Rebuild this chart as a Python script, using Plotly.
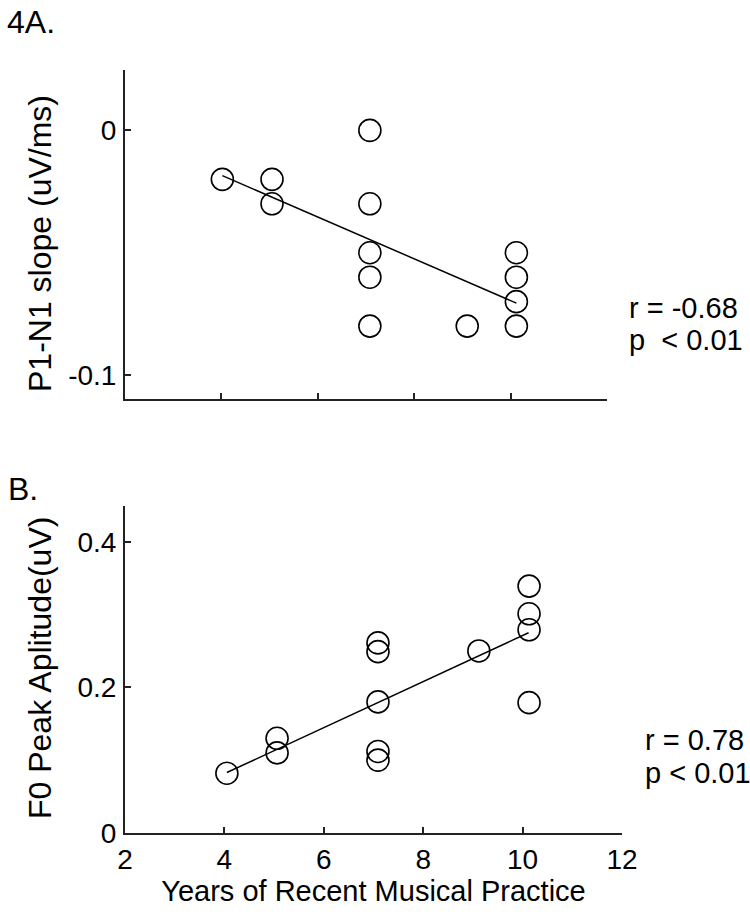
import plotly.graph_objects as go

# ---- data ----
top_x = [4.02, 5.05, 5.05, 7.08, 7.08, 7.08, 7.08, 7.08, 9.1, 10.12, 10.12, 10.12, 10.12]
top_y = [-0.02, -0.02, -0.03, 0.0, -0.03, -0.05, -0.06, -0.08, -0.08, -0.05, -0.06, -0.07, -0.08]
top_fit_x = [4.02, 10.12]
top_fit_y = [-0.0185, -0.0706]

bot_x = [4.05, 5.06, 5.06, 7.09, 7.09, 7.09, 7.09, 7.09, 9.12, 10.13, 10.13, 10.13, 10.13]
bot_y = [0.082, 0.130, 0.110, 0.261, 0.249, 0.180, 0.112, 0.100, 0.250, 0.339, 0.301, 0.279, 0.179]
bot_fit_x = [4.05, 10.12]
bot_fit_y = [0.083, 0.275]

x_ticks = [2, 4, 6, 8, 10, 12]
top_y_ticks = [-0.1, 0]
top_y_ticklabels = ["-0.1", "0"]
bot_y_ticks = [0, 0.2, 0.4]
bot_y_ticklabels = ["0", "0.2", "0.4"]

FONT = "Liberation Sans, Arial, sans-serif"
W, H = 750, 915
ML, MT = 125, 70
MR = W - 622
MB = H - 833
PW, PH = W - ML - MR, H - MT - MB


def px_x(p):  # window pixel -> paper x
    return (p - ML) / PW


def px_y(p):  # window pixel -> paper y
    return (H - MB - p) / PH


fig = go.Figure()

marker = dict(symbol="circle-open", size=22, color="black", line=dict(width=1.6, color="black"))

fig.add_trace(go.Scatter(x=top_x, y=top_y, mode="markers", marker=marker, xaxis="x", yaxis="y",
                         showlegend=False))
fig.add_trace(go.Scatter(x=top_fit_x, y=top_fit_y, mode="lines", line=dict(color="black", width=1.5),
                         xaxis="x", yaxis="y", showlegend=False))
fig.add_trace(go.Scatter(x=bot_x, y=bot_y, mode="markers", marker=marker, xaxis="x2", yaxis="y2",
                         showlegend=False))
fig.add_trace(go.Scatter(x=bot_fit_x, y=bot_fit_y, mode="lines", line=dict(color="black", width=1.5),
                         xaxis="x2", yaxis="y2", showlegend=False))

axis_common = dict(showgrid=False, zeroline=False, showline=True, linecolor="#222", linewidth=2,
                   ticks="inside", ticklen=6, tickwidth=1.5, tickcolor="#222",
                   tickfont=dict(family=FONT, size=28, color="black"))

fig.update_layout(
    width=W, height=H, autosize=False,
    margin=dict(l=ML, r=MR, t=MT, b=MB),
    paper_bgcolor="white", plot_bgcolor="white",
    font=dict(family=FONT, color="black"),
    xaxis=dict(domain=[0, px_x(607)], range=[2, 12],
               tickvals=x_ticks, showticklabels=False, anchor="y", **axis_common),
    yaxis=dict(domain=[px_y(399), 1], range=[-0.1098, 0.0247], tickvals=top_y_ticks,
               ticktext=top_y_ticklabels, anchor="x", ticklabelstandoff=1, **axis_common),
    xaxis2=dict(domain=[0, 1], range=[2, 12], tickvals=x_ticks, anchor="y2",
                ticklabelstandoff=0,
                title=dict(text="Years of Recent Musical Practice",
                           font=dict(family=FONT, size=29, color="black"), standoff=4),
                **axis_common),
    yaxis2=dict(domain=[0, px_y(506)], range=[0, 0.449], tickvals=bot_y_ticks,
                ticktext=bot_y_ticklabels, anchor="x2", ticklabelstandoff=1, **axis_common),
)

ann_font = dict(family=FONT, size=29, color="black")
annotations = [
    dict(text="4A.", x=px_x(5), y=px_y(22), xanchor="left", yanchor="middle",
         font=dict(family=FONT, size=32, color="black")),
    dict(text="B.", x=px_x(6), y=px_y(489), xanchor="left", yanchor="middle",
         font=dict(family=FONT, size=32, color="black")),
    dict(text="P1-N1 slope (uV/ms)", x=px_x(40), y=px_y(244), xanchor="center", yanchor="middle",
         textangle=-90, font=dict(family=FONT, size=32, color="black")),
    dict(text="F0 Peak Aplitude(uV)", x=px_x(40), y=px_y(668), xanchor="center", yanchor="middle",
         textangle=-90, font=dict(family=FONT, size=32, color="black")),
    dict(text="r = -0.68", x=px_x(627), y=px_y(308), xanchor="left", yanchor="middle", font=ann_font),
    dict(text="p\u00a0 < 0.01", x=px_x(627), y=px_y(340), xanchor="left", yanchor="middle",
         font=ann_font),
    dict(text="r = 0.78", x=px_x(643), y=px_y(740), xanchor="left", yanchor="middle", font=ann_font),
    dict(text="p < 0.01", x=px_x(643), y=px_y(773), xanchor="left", yanchor="middle", font=ann_font),
]
for a in annotations:
    a.update(xref="paper", yref="paper", showarrow=False)
fig.update_layout(annotations=annotations)

# remove the browser's default 8px body margin so the figure fills the window exactly
fig.write_html("out.html", config={"displayModeBar": False},
               post_script="document.body.style.margin='0';")
